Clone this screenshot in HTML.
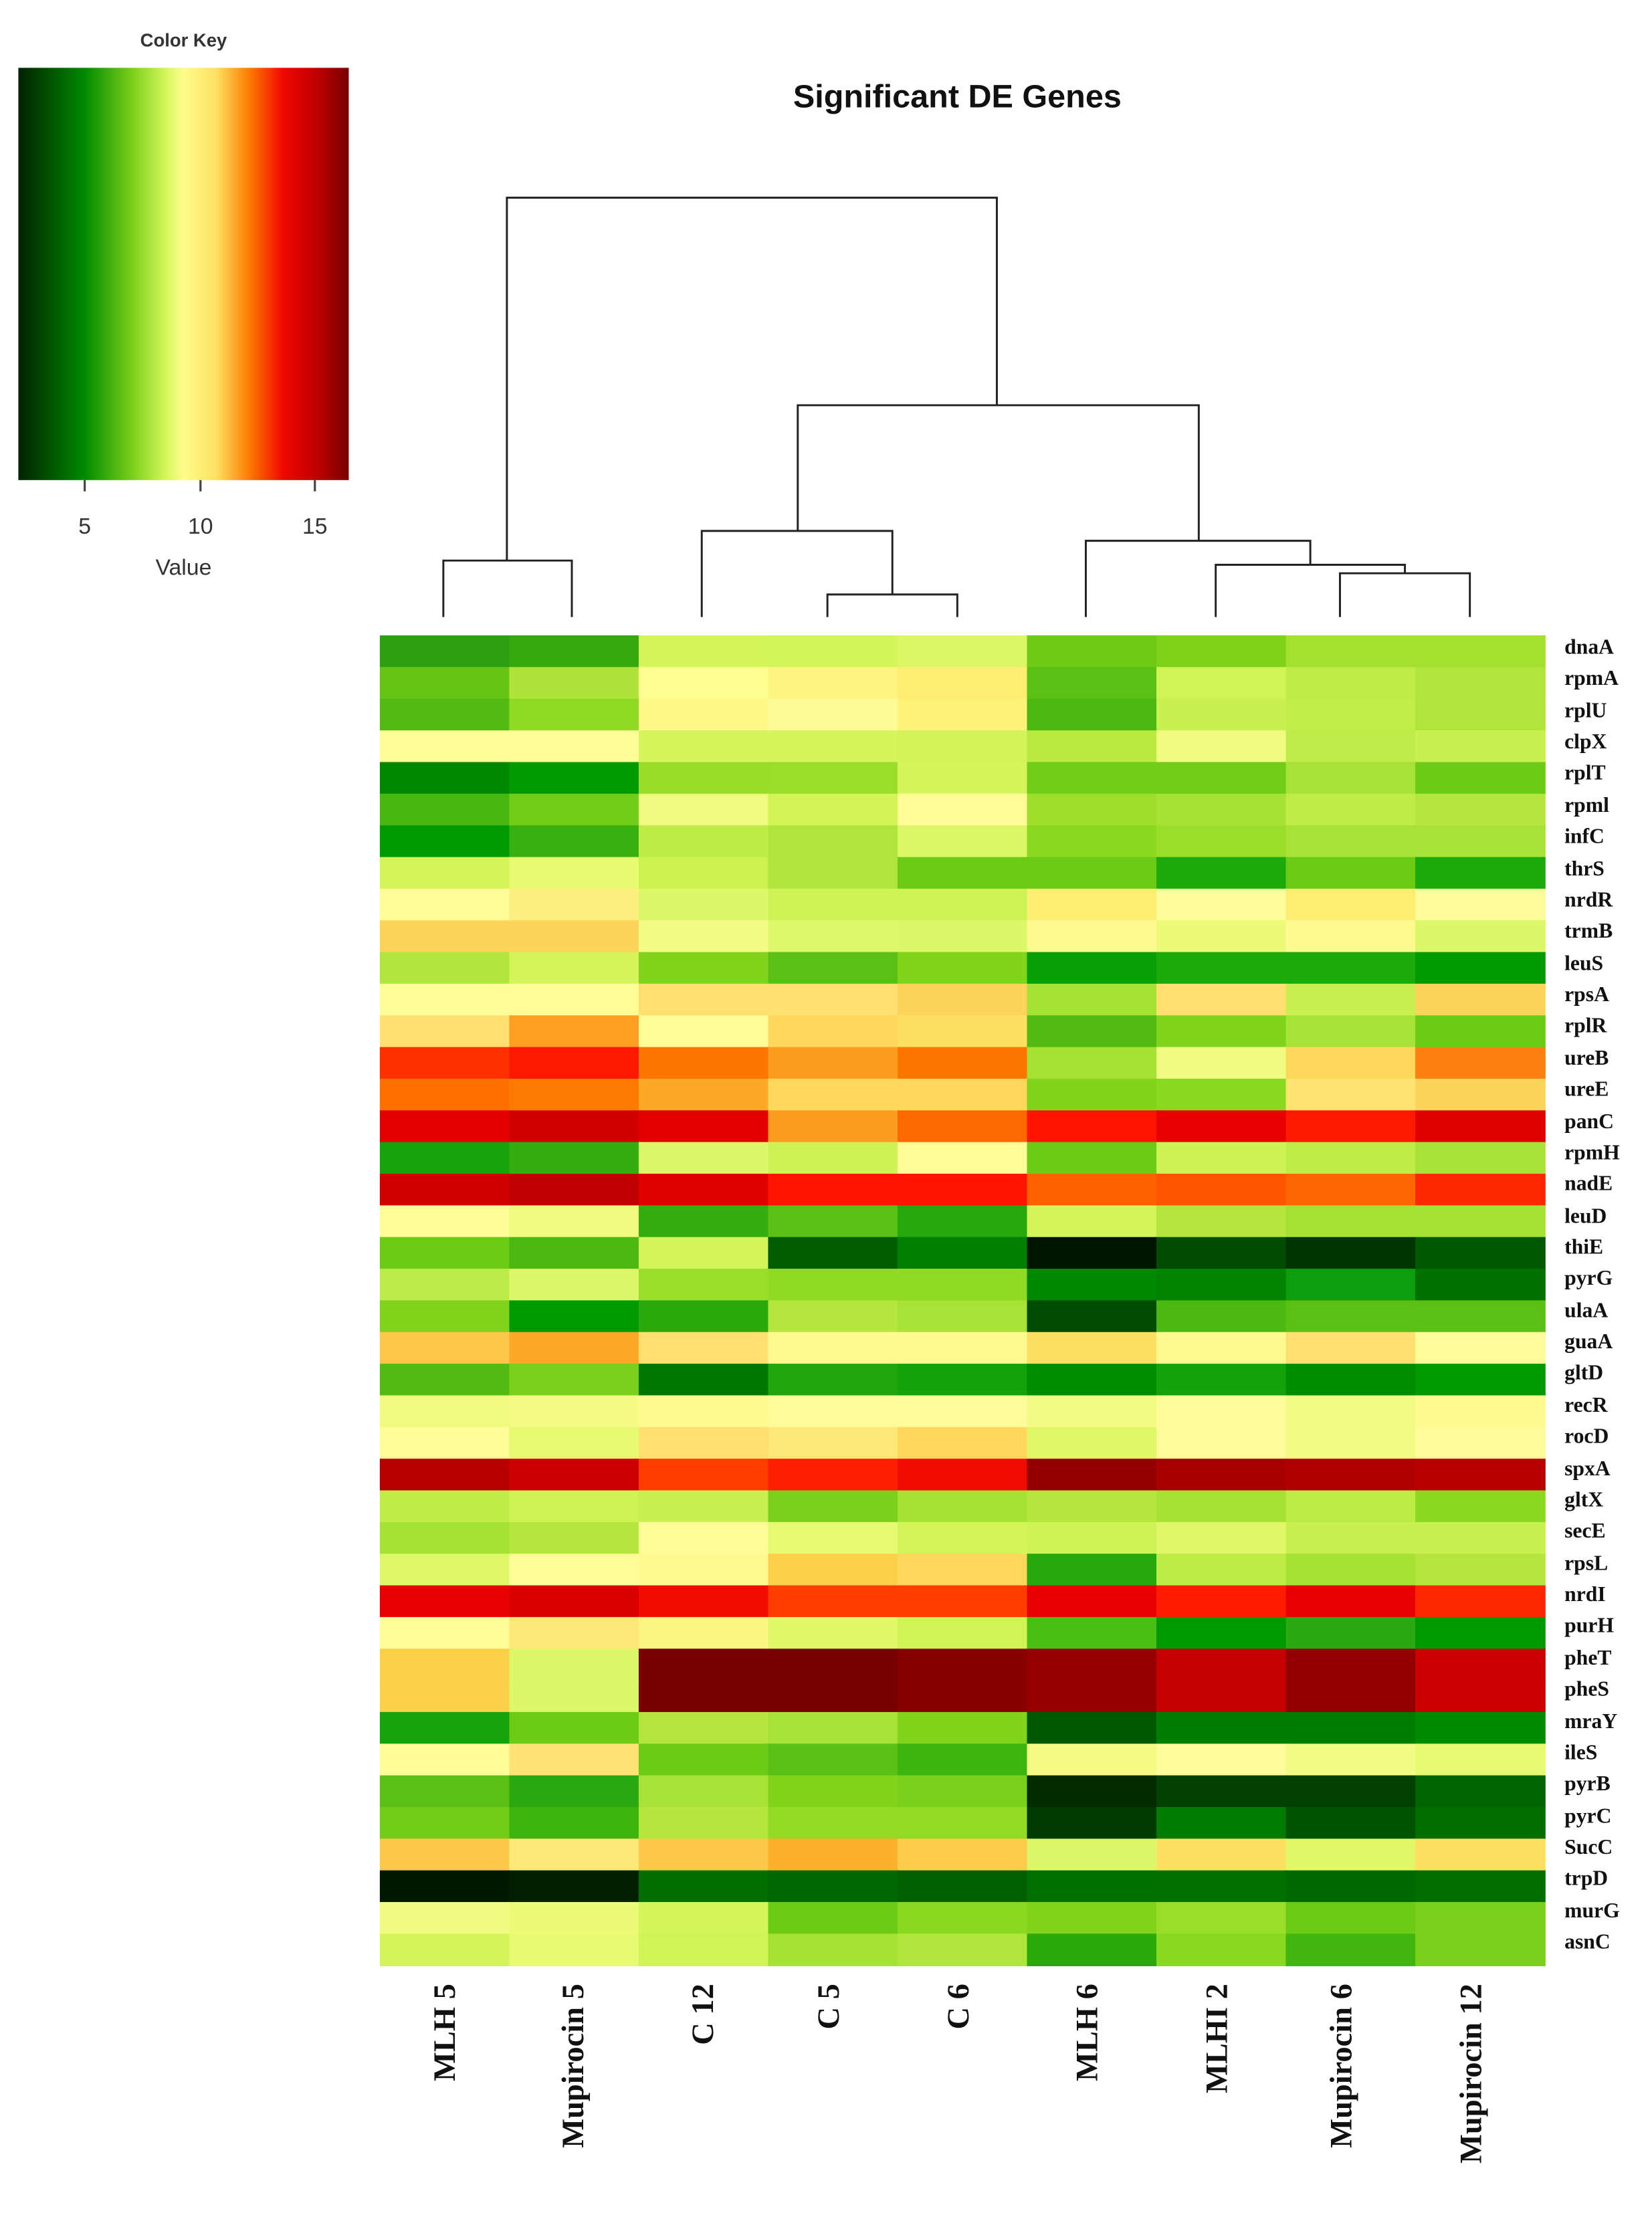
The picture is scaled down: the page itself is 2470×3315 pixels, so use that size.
<!DOCTYPE html>
<html><head><meta charset="utf-8"><style>html,body{margin:0;padding:0;background:#fff}svg{display:block}</style></head>
<body>
<svg id="s" xmlns="http://www.w3.org/2000/svg" width="2470" height="3315" viewBox="0 0 1170 1570.2">
<defs><linearGradient id="g" x1="0" x2="1" y1="0" y2="0">
<stop offset="0" stop-color="#002200"/><stop offset="0.2" stop-color="#008a00"/><stop offset="0.35" stop-color="#7fd21c"/><stop offset="0.45" stop-color="#d8f75e"/><stop offset="0.5" stop-color="#fdfc8c"/><stop offset="0.6" stop-color="#fde060"/><stop offset="0.7" stop-color="#fd7a00"/><stop offset="0.8" stop-color="#f00800"/><stop offset="0.9" stop-color="#c00000"/><stop offset="1" stop-color="#7a0000"/></linearGradient></defs>
<rect width="1170" height="1571" fill="#fff"/>
<g font-family="Liberation Sans, sans-serif" fill="#333">
<text x="130" y="33" font-size="13" font-weight="bold" text-anchor="middle">Color Key</text>
<rect x="13" y="48" width="234" height="292" fill="url(#g)"/>
<path d="M60 340v8M142 340v8M223 340v8" stroke="#444" stroke-width="1.5"/>
<text x="60" y="378" font-size="16" text-anchor="middle">5</text>
<text x="142" y="378" font-size="16" text-anchor="middle">10</text>
<text x="223" y="378" font-size="16" text-anchor="middle">15</text>
<text x="130" y="407" font-size="16" text-anchor="middle">Value</text>
</g>
<text x="678" y="76" font-family="Liberation Sans, sans-serif" font-size="23" font-weight="bold" text-anchor="middle" fill="#111">Significant DE Genes</text>
<g stroke="#222" stroke-width="1.4" fill="none">
<path d="M314 437V397H405V437M359 397V140H706V287M586 437V421H678V437M497 437V376H632V421M565 376V287H849V383M949 437V406H1041V437M861 437V400H995V406M769 437V383H928V400"/>
</g>
<g id="hm"></g>
<g font-family="Liberation Serif, serif" font-size="15" font-weight="bold" fill="#111">
<text x="1108" y="463">dnaA</text><text x="1108" y="485">rpmA</text><text x="1108" y="508">rplU</text><text x="1108" y="530">clpX</text><text x="1108" y="552">rplT</text><text x="1108" y="575">rpml</text><text x="1108" y="597">infC</text><text x="1108" y="620">thrS</text><text x="1108" y="642">nrdR</text><text x="1108" y="664">trmB</text><text x="1108" y="687">leuS</text><text x="1108" y="709">rpsA</text><text x="1108" y="731">rplR</text><text x="1108" y="754">ureB</text><text x="1108" y="776">ureE</text><text x="1108" y="799">panC</text><text x="1108" y="821">rpmH</text><text x="1108" y="843">nadE</text><text x="1108" y="866">leuD</text><text x="1108" y="888">thiE</text><text x="1108" y="910">pyrG</text><text x="1108" y="933">ulaA</text><text x="1108" y="955">guaA</text><text x="1108" y="977">gltD</text><text x="1108" y="1000">recR</text><text x="1108" y="1022">rocD</text><text x="1108" y="1045">spxA</text><text x="1108" y="1067">gltX</text><text x="1108" y="1089">secE</text><text x="1108" y="1112">rpsL</text><text x="1108" y="1134">nrdI</text><text x="1108" y="1156">purH</text><text x="1108" y="1179">pheT</text><text x="1108" y="1201">pheS</text><text x="1108" y="1224">mraY</text><text x="1108" y="1246">ileS</text><text x="1108" y="1268">pyrB</text><text x="1108" y="1291">pyrC</text><text x="1108" y="1313">SucC</text><text x="1108" y="1335">trpD</text><text x="1108" y="1358">murG</text><text x="1108" y="1380">asnC</text>
</g>
<g font-family="Liberation Serif, serif" font-size="22" font-weight="bold" fill="#111" text-anchor="end">
<text transform="translate(322,1405) rotate(-90)">MLH 5</text>
<text transform="translate(413,1405) rotate(-90)">Mupirocin 5</text>
<text transform="translate(505,1405) rotate(-90)">C 12</text>
<text transform="translate(594,1405) rotate(-90)">C 5</text>
<text transform="translate(686,1405) rotate(-90)">C 6</text>
<text transform="translate(777,1405) rotate(-90)">MLH 6</text>
<text transform="translate(869,1405) rotate(-90)">MLHI  2</text>
<text transform="translate(957,1405) rotate(-90)">Mupirocin  6</text>
<text transform="translate(1049,1405) rotate(-90)">Mupirocin  12</text>
</g>
<script>
var d=[
"2ca010 35a810 d4f55a d2f55a dcf765 6ecb15 7ed31a a3e030 a3e030",
"66c414 aee43a fdfd90 fdf580 fded70 5cc014 d0f355 c0ec48 b0e63c",
"52bb12 90da25 fdf888 fdfb98 fdf378 4cb812 c8f050 c3ee4a b0e63c",
"fdfc98 fdfc98 d6f55d d6f55d d2f45a b8ea40 f0fb80 bfec48 c8f050",
"008800 009a00 99dc2a 9ade2b d6f55d 72cd18 72cd18 a8e236 6ccb15",
"48b712 72cd18 f0fa80 d2f455 fdfc98 9edf2c a6e234 c0ec48 b4e63e",
"009a00 38b010 bcec45 b0e63c dcf765 8ad820 9ade2b a8e236 a8e236",
"d4f55a e8fa72 ccf250 b0e63c 6ccb15 6ccb15 1caa0a 6ccb15 1caa0a",
"fdfc98 fdf080 dcf768 cef354 cef354 fded70 fdfb9a fded70 fdfb9a",
"fdd45a fdd45a f3fb85 def869 dcf768 fdfb90 ecfa78 fdfb90 dcf768",
"b0e63c d4f55a 82d31c 5cc014 82d31c 089e08 1caa0a 1caa0a 009a00",
"fdfc98 fdfc98 fde070 fde070 fdd45a a6e234 fde070 c8f050 fdd45a",
"fde070 fd9f20 fdfc98 fdd85a fde060 52bb12 82d31c a8e236 6ccb15",
"fd3000 fd1800 fd7600 fd9d20 fd7600 a6e234 f0fb80 fdd85a fd8010",
"fd7000 fd7a00 fda828 fdd85a fdd85a 82d31c 8ad820 fde470 fdd45a",
"e20000 d00000 e20000 fd9d20 fd6800 fd1500 e80000 fd1800 e00000",
"16a30a 34ad10 dcf768 cdf254 fdfc98 6ccb15 cdf254 c0ec48 a8e236",
"d00000 c00000 e00000 fd1500 fd1500 fd6200 fd5400 fd6600 fd2800",
"fdfc98 f0fb80 34ad10 5cc014 26a80c d4f55a b4e63e a6e234 a6e234",
"6ccb15 4cb812 d4f55a 005e00 008000 001400 004c00 003400 005800",
"bcec48 dcf768 9ade2b 90da25 90da25 008800 008400 0c9e0c 007000",
"82d31c 009a00 2aa80c b4e63e a8e236 004c00 4cb812 5cc014 5cc014",
"fdc84a fda828 fde070 fdfb90 fdfb90 fde060 fdfb90 fde070 fdfb9a",
"52bb12 7ad01a 007800 20a60c 12a20a 008e00 14a20a 008e00 009a00",
"f0fb80 f6fb88 fdfa90 fdfb9a fdfb9a f3fb85 fdfb9a f3fb85 fdfb90",
"fdfc98 e8fa72 fde070 fde878 fdd85a e0f868 fdfb9a f3fb85 fdfb9a",
"b80000 cc0000 fd3c00 fd2000 f00c00 940000 a80000 b00000 b80000",
"c0ec48 cef354 c8f050 7ad01a a6e234 b4e63e a6e234 bcec45 8ad820",
"a6e234 b4e63e fdfc98 e8fa72 d4f55a cef354 e0f868 c8f050 c8f050",
"e0f868 fdfc98 fdfb90 fdd04a fdd85a 24a80c bcec45 a6e234 b4e63e",
"e80000 d80000 f20c00 fd3c00 fd3c00 e80000 fd1c00 e80000 fd2800",
"fdfc98 fde878 fdf582 e0f868 d0f355 48bf12 009a00 2ca810 009a00",
"fdd04a dcf768 780000 780000 880000 980000 c40000 920000 cc0000",
"fdd04a dcf768 780000 780000 880000 980000 c40000 920000 cc0000",
"16a30a 6ccb15 b4e63e a8e236 82d31c 005800 007c00 007c00 008a00",
"fdfc98 fde474 6ccb15 5cc014 3db50f f6fb88 fdfb9a f3fb85 e8fa72",
"5cc014 2ca810 a8e236 82d31c 7ad01a 002c00 004000 004000 006400",
"72cd18 3db50f b4e63e 92da25 92da25 003c00 007c00 005400 006e00",
"fdc84a fde878 fdc84a fdb02c fdcc48 dcf768 fde060 e0f868 fde060",
"001800 002000 006e00 006800 006000 007000 007000 006a00 006e00",
"f0fb80 ecfa78 d4f55a 6ccb15 8ad820 82d31c 9ade2b 6ccb15 7ad01a",
"d4f55a e8fa72 d0f355 a6e234 b0e63c 2aa80c 8ad820 42b510 7ad01a"];
var g=document.getElementById("hm"),ns="http://www.w3.org/2000/svg",x0=269,y0=450,cw=(1094-269)/9,rh=(1392-450)/42;
d.forEach(function(r,i){r.split(" ").forEach(function(c,j){var e=document.createElementNS(ns,"rect");
e.setAttribute("x",x0+j*cw);e.setAttribute("y",y0+i*rh);e.setAttribute("width",cw+0.6);e.setAttribute("height",rh+0.6);e.setAttribute("fill","#"+c);g.appendChild(e);});});
</script>
</svg>
</body></html>
